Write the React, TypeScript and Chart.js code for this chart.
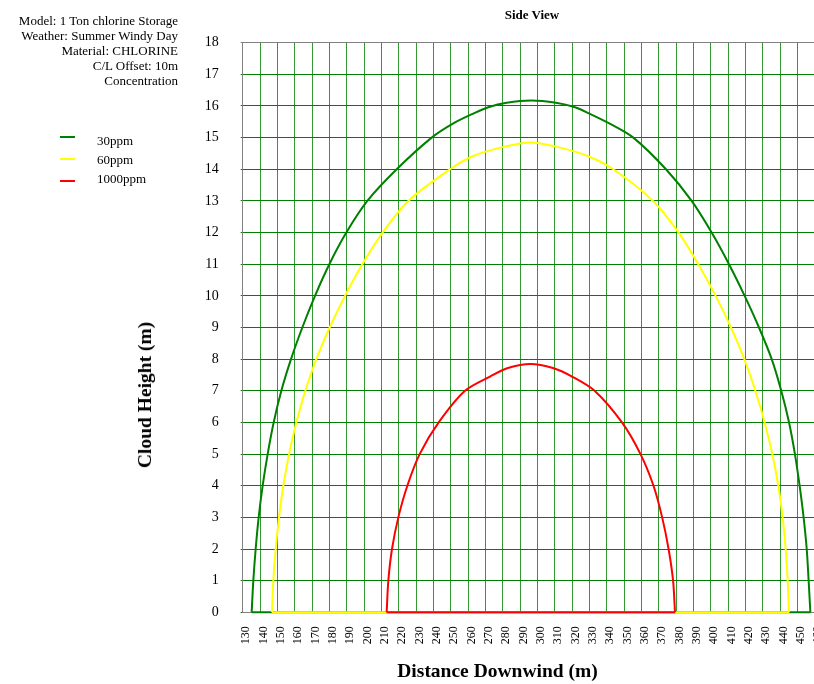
import React, { useEffect, useRef } from "react";
import { Chart, registerables } from "chart.js";

Chart.register(...registerables);

// ---- data ----
const headerLines = [
  "Model: 1 Ton chlorine Storage",
  "Weather: Summer Windy Day",
  "Material: CHLORINE",
  "C/L Offset: 10m",
  "Concentration",
];
const chartTitle = "Side View";
const xTitle = "Distance Downwind (m)";
const yTitle = "Cloud Height (m)";
const seriesNames = ["30ppm", "60ppm", "1000ppm"];
const seriesColors = ["#008000", "#FFFF00", "#FF0000"];

const xMin = 130;
const xMax = 460;
const xStep = 10;
const yMin = 0;
const yMax = 18;
const yStep = 1;

const green30X = [
  135.17, 136.13, 137.48, 139.21, 141.52, 144.4, 147.87, 152.29, 157.87, 164.4,
  171.71, 179.98, 189.78, 201.9, 218.83, 239.02, 251.5, 263.0, 271.7, 282.3,
  296.5, 310.7, 321.7, 330.0, 341.5, 355.36, 374.2, 389.01, 400.55, 410.55,
  419.59, 427.86, 435.2, 440.7, 445.2, 448.6, 451.3, 453.6, 455.4, 456.5, 457.5,
];
const green30Y = [
  0, 1, 2, 3, 4, 5, 6, 7, 8, 9, 10, 11, 12, 13, 14, 15, 15.45, 15.76, 15.96,
  16.1, 16.17, 16.1, 15.96, 15.76, 15.45, 15, 14, 13, 12, 11, 10, 9, 8, 7, 6, 5,
  4, 3, 2, 1, 0,
];

const yellow60X = [
  146.9, 147.67, 149.02, 150.94, 153.44, 156.71, 160.94, 166.13, 172.48, 180.17,
  189.02, 199.02, 210.75, 225.55, 249.59, 263.0, 280.0, 296.0, 312.0, 329.0,
  343.82, 366.71, 381.52, 392.86, 402.86, 411.7, 419.4, 425.74, 431.13, 435.55,
  439.01, 441.51, 443.24, 444.4, 445.16,
];
const yellow60Y = [
  0, 1, 2, 3, 4, 5, 6, 7, 8, 9, 10, 11, 12, 13, 14, 14.42, 14.7, 14.85, 14.7,
  14.42, 14, 13, 12, 11, 10, 9, 8, 7, 6, 5, 4, 3, 2, 1, 0,
];

const red1000X = [
  213.06, 214.02, 216.13, 219.79, 224.98, 232.1, 243.06, 258.25, 272.7, 283.0,
  296.0, 309.0, 320.0, 333.0, 348.8, 359.5, 367.0, 372.0, 375.7, 378.3, 379.4,
];
const red1000Y = [
  0, 1, 2, 3, 4, 5, 6, 7, 7.45, 7.72, 7.85, 7.72, 7.45, 7, 6, 5, 4, 3, 2, 1, 0,
];

const seriesX = [green30X, yellow60X, red1000X];
const seriesY = [green30Y, yellow60Y, red1000Y];

const FONT = "'Liberation Serif', 'Times New Roman', serif";

export default function App() {
  const canvasRef = useRef<HTMLCanvasElement | null>(null);

  useEffect(() => {
    const canvas = canvasRef.current;
    if (!canvas) return;
    const curveSets = seriesNames.map((name, i) => ({
      label: name,
      data: seriesX[i].map((x, j) => ({ x, y: seriesY[i][j] })),
      borderColor: seriesColors[i],
      backgroundColor: seriesColors[i],
      borderWidth: 2,
      pointRadius: 0,
      tension: 0.3,
      fill: false,
      clip: 3,
      order: 3 - i,
    }));
    const baseSets = seriesNames.map((name, i) => {
      const xs = seriesX[i];
      return {
        label: name + " base",
        data: [
          { x: xs[0], y: 0 },
          { x: xs[xs.length - 1], y: 0 },
        ],
        borderColor: seriesColors[i],
        backgroundColor: seriesColors[i],
        borderWidth: 2,
        pointRadius: 0,
        tension: 0,
        fill: false,
        clip: 3,
        order: 3 - i,
      };
    });
    const chart = new Chart(canvas, {
      type: "line",
      data: { datasets: [...curveSets, ...baseSets] },
      options: {
        animation: false,
        responsive: false,
        devicePixelRatio: 1,
        layout: { padding: { left: 0, top: 42.7, right: 15.3, bottom: 0 } },
        plugins: {
          legend: { display: false },
          tooltip: { enabled: false },
          title: { display: false },
        },
        scales: {
          x: {
            type: "linear",
            min: xMin,
            max: xMax,
            border: { display: true, color: "#808080", width: 1 },
            grid: {
              drawTicks: false,
              color: (ctx: any) =>
                ctx.tick && ctx.tick.value === xMin ? "#808080" : "rgba(0,128,0,0.8)",
              lineWidth: 1,
            },
            ticks: {
              stepSize: xStep,
              autoSkip: false,
              minRotation: 90,
              maxRotation: 90,
              padding: 14,
              labelOffset: 3.5,
              color: "#000",
              font: { family: FONT, size: 12 },
            },
            afterFit: (scale: any) => {
              scale.height = 71.7;
              scale.paddingLeft = 0;
              scale.paddingRight = 0;
            },
          },
          y: {
            type: "linear",
            min: yMin,
            max: yMax,
            border: { display: true, color: "#808080", width: 1 },
            grid: {
              drawTicks: true,
              tickLength: 2,
              color: (ctx: any) =>
                ctx.tick && ctx.tick.value === yMax ? "#808080" : "#008000",
              lineWidth: 1,
            },
            ticks: {
              stepSize: yStep,
              padding: 22,
              color: "#000",
              font: { family: FONT, size: 14 },
            },
            afterFit: (scale: any) => {
              scale.width = 242.7;
            },
          },
        },
      },
    } as any);
    return () => chart.destroy();
  }, []);

  const abs = (s: React.CSSProperties): React.CSSProperties => ({
    position: "absolute",
    fontFamily: FONT,
    color: "#000",
    whiteSpace: "nowrap",
    ...s,
  });

  return (
    <div
      style={{
        position: "fixed",
        left: 0,
        top: 0,
        width: 814,
        height: 684,
        overflow: "hidden",
        background: "#fff",
      }}
    >
      <canvas
        ref={canvasRef}
        width={830}
        height={684}
        style={{ position: "absolute", left: 0, top: 0, width: 830, height: 684 }}
      />
      <div
        style={abs({
          left: 0,
          top: 12.5,
          width: 178,
          textAlign: "right",
          fontSize: 13,
          lineHeight: "15px",
        })}
      >
        {headerLines.map((l) => (
          <div key={l}>{l}</div>
        ))}
      </div>
      {seriesNames.map((name, i) => (
        <React.Fragment key={name}>
          <div
            style={{
              position: "absolute",
              left: 60,
              top: [136, 157.5, 180][i],
              width: 15,
              height: 2,
              background: seriesColors[i],
            }}
          />
          <div
            style={abs({
              left: 97,
              top: [141, 160, 178.5][i] - 8,
              fontSize: 13,
              lineHeight: "16px",
            })}
          >
            {name}
          </div>
        </React.Fragment>
      ))}
      <div
        style={abs({
          left: 532,
          top: 15,
          transform: "translate(-50%, -50%)",
          fontSize: 13,
          fontWeight: "bold",
        })}
      >
        {chartTitle}
      </div>
      <div
        style={abs({
          left: 145,
          top: 395,
          transform: "translate(-50%, -50%) rotate(-90deg)",
          fontSize: 19.5,
          fontWeight: "bold",
        })}
      >
        {yTitle}
      </div>
      <div
        style={abs({
          left: 497.5,
          top: 671,
          transform: "translate(-50%, -50%)",
          fontSize: 19.5,
          fontWeight: "bold",
        })}
      >
        {xTitle}
      </div>
    </div>
  );
}
